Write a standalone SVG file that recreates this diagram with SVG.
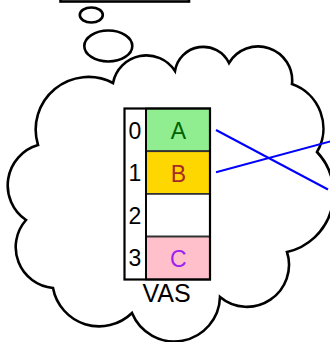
<svg xmlns="http://www.w3.org/2000/svg" width="330" height="342" viewBox="0 0 330 342">
<style>
.outline{fill:#ffffff;stroke:#000000;stroke-width:2.6;stroke-linejoin:miter}
.cell{stroke:#333333;stroke-width:1.8}
.conn{stroke:#0000ff;stroke-width:2;fill:none}
</style>
<rect width="330" height="342" fill="#ffffff"/>
<g id="box-top">
<rect class="outline" x="60.5" y="-20" width="128.5" height="21.5"/>
</g>
<g id="bubble-small">
<ellipse class="outline" cx="91.3" cy="15" rx="11.5" ry="7.5"/>
</g>
<g id="bubble-medium">
<ellipse class="outline" cx="108.3" cy="46" rx="24" ry="15.5"/>
</g>
<g id="cloud">
<path class="outline" d="M113,83 A34,34 0 0 1 175,71 A28.6,28.6 0 0 1 229,63 A34,34 0 0 1 292,84 A47,47 0 0 1 317,152 A60,60 0 0 1 287,252 A42,42 0 0 1 220,297 A45.7,45.7 0 0 1 132,313 A47,47 0 0 1 53,288 A41,41 0 0 1 26,220 A42,42 0 0 1 38,145 A52.7,52.7 0 0 1 113,83 Z"/>
</g>
<g id="vas" font-family="'Liberation Sans', Arial, sans-serif" text-anchor="middle">
<rect x="124.5" y="108.5" width="21.5" height="171" fill="#ffffff" stroke="none"/>
<rect class="cell" x="146" y="108.5" width="64" height="42.7" fill="#90ee90"/>
<rect class="cell" x="146" y="151.2" width="64" height="42.7" fill="#ffd700"/>
<rect class="cell" x="146" y="193.9" width="64" height="42.7" fill="#ffffff"/>
<rect class="cell" x="146" y="236.6" width="64" height="42.9" fill="#ffc0cb"/>
<rect x="124.5" y="108.5" width="85.5" height="171" fill="none" stroke="#000000" stroke-width="2.2"/>
<line x1="146" y1="108.5" x2="146" y2="279.5" stroke="#000000" stroke-width="1.8"/>
<text x="135" y="138.7" font-size="23" fill="#000000">0</text>
<text x="135" y="181.3" font-size="23" fill="#000000">1</text>
<text x="135" y="223.8" font-size="23" fill="#000000">2</text>
<text x="135" y="266.3" font-size="23" fill="#000000">3</text>
<text x="178.3" y="139" font-size="23" fill="#006400">A</text>
<text x="178.3" y="181.5" font-size="23" fill="#a52a2a">B</text>
<text x="178.3" y="266.6" font-size="23" fill="#a020f0">C</text>
<text x="166.5" y="301.5" font-size="25" fill="#000000">VAS</text>
</g>
<g id="connectors">
<line class="conn" x1="216" y1="130" x2="328" y2="189.5"/>
<line class="conn" x1="216" y1="172.2" x2="331" y2="141.3"/>
</g>
</svg>
